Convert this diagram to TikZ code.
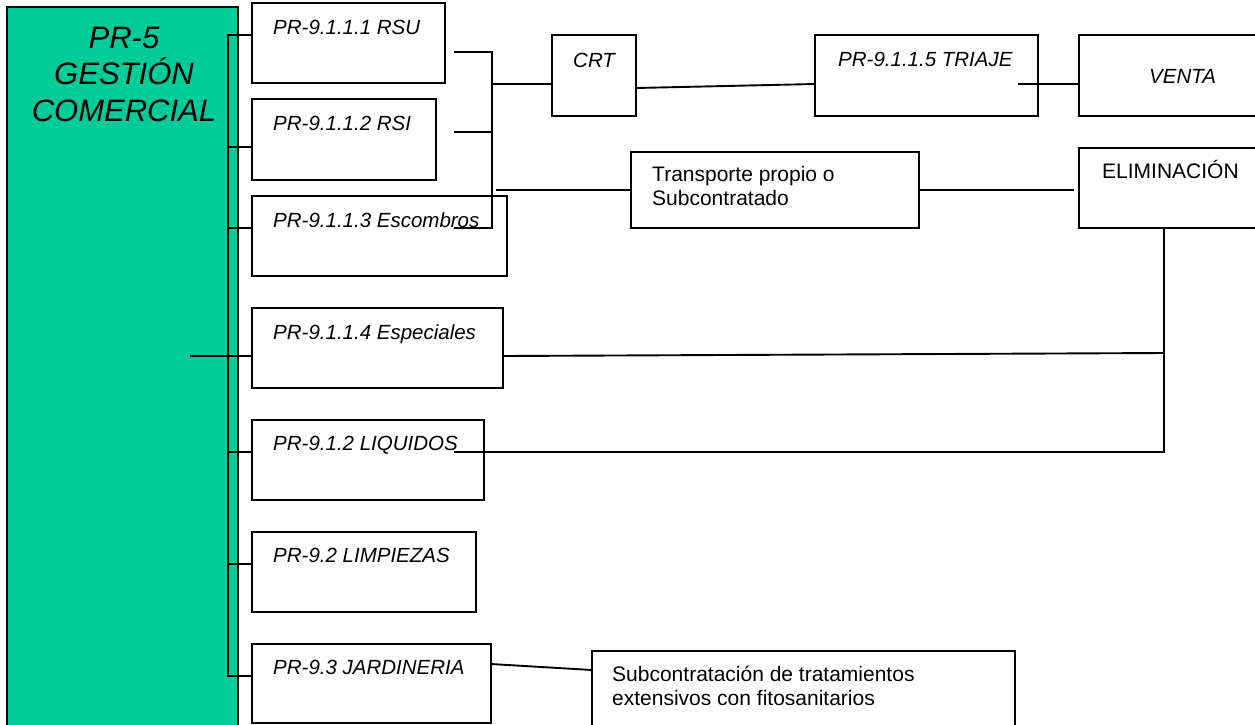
\documentclass[tikz,border=0pt]{standalone}
\usepackage{fontspec}
\setmainfont{Liberation Sans}
\definecolor{pgreen}{RGB}{0,204,153}
\begin{document}
\begin{tikzpicture}[x=1pt,y=-1pt,
  box/.style={draw=black, line width=1.9pt, fill=white, inner sep=0pt, outer sep=0pt, anchor=north west},
  itlbl/.style={inner sep=0pt, anchor=base west, font=\fontsize{20.5}{24}\selectfont\itshape},
  uplbl/.style={inner sep=0pt, anchor=base west, align=left, font=\fontsize{21}{23.3}\selectfont},
  ttl/.style={inner sep=0pt, anchor=base, font=\fontsize{31}{36.5}\selectfont\itshape},
  conn/.style={line width=1.9pt, line cap=rect}]
\useasboundingbox (0,0) rectangle (1255,724);
\clip (0,0) rectangle (1255,724);
% main green box
\node[box, fill=pgreen, line width=1.6pt, minimum width=231pt, minimum height=760pt] (pr5) at (7,7) {};
\node[ttl] (t1) at (124,48) {PR-5};
\node[ttl] (t2) at (124,84.5) {GESTIÓN};
\node[ttl] (t3) at (124,121) {COMERCIAL};
% left boxes
\node[box, minimum width=193pt, minimum height=80pt] (rsu) at (252,3) {};
\node[box, minimum width=184pt, minimum height=81pt] (rsi) at (252,99) {};
\node[box, minimum width=255pt, minimum height=80pt] (esc) at (252,196) {};
\node[box, minimum width=251pt, minimum height=80pt] (esp) at (252,308) {};
\node[box, minimum width=232pt, minimum height=80pt] (liq) at (252,420) {};
\node[box, minimum width=224pt, minimum height=80pt] (lim) at (252,532) {};
\node[box, minimum width=239pt, minimum height=79pt] (jar) at (252,644) {};
\node[itlbl] (lrsu) at (273,34.5) {PR-9.1.1.1 RSU};
\node[itlbl] (lrsi) at (273,130.5) {PR-9.1.1.2 RSI};
\node[itlbl] (lesc) at (273,227.5) {PR-9.1.1.3 Escombros};
\node[itlbl] (lesp) at (273,339.5) {PR-9.1.1.4 Especiales};
\node[itlbl] (lliq) at (273,450.5) {PR-9.1.2 LIQUIDOS};
\node[itlbl] (llim) at (273,562.5) {PR-9.2 LIMPIEZAS};
\node[itlbl] (ljar) at (273,674.5) {PR-9.3 JARDINERIA};
% right boxes
\node[box, minimum width=84pt, minimum height=81pt] (crt) at (552,35) {};
\node[box, minimum width=223pt, minimum height=81pt] (tri) at (815,35) {};
\node[box, minimum width=200pt, minimum height=81pt] (ven) at (1079,35) {};
\node[box, minimum width=288pt, minimum height=76pt] (tra) at (631,152) {};
\node[box, minimum width=200pt, minimum height=80pt] (eli) at (1079,148) {};
\node[box, minimum width=423pt, minimum height=100pt] (sub) at (592,651) {};
\node[itlbl] (lcrt) at (573,67.5) {CRT};
\node[itlbl] (ltri) at (838,66.5) {PR-9.1.1.5 TRIAJE};
\node[itlbl] (lven) at (1149,83.5) {VENTA};
\node[uplbl] (ltra) at (652,205) {Transporte propio o\\Subcontratado};
\node[uplbl] (leli) at (1102,178) {ELIMINACIÓN};
\node[uplbl] (lsub) at (612,705) {Subcontratación de tratamientos\\extensivos con fitosanitarios};
% bus and branches
\coordinate (b1) at (228,35);
\coordinate (b2) at (228,147);
\coordinate (b3) at (228,228);
\coordinate (b4) at (191,356);
\coordinate (b5) at (228,452);
\coordinate (b6) at (228,564);
\coordinate (b7) at (228,676);
\draw[conn] (b1) -- (b7);
\draw[conn] (b1) -- (rsu.west |- b1);
\draw[conn] (b2) -- (rsi.west |- b2);
\draw[conn] (b3) -- (esc.west |- b3);
\draw[conn] (b4) -- (esp.west |- b4);
\draw[conn] (b5) -- (liq.west |- b5);
\draw[conn] (b6) -- (lim.west |- b6);
\draw[conn] (b7) -- (jar.west |- b7);
% collector from RSU/RSI/Escombros
\coordinate (rsuR) at (455,52);
\coordinate (rsiR) at (455,132);
\coordinate (escR) at (455,228);
\coordinate (c1) at (492,52);
\coordinate (c2) at (492,132);
\coordinate (c3) at (492,228);
\coordinate (cm) at (492,84);
\coordinate (traL) at (497,190);
\draw[conn] (rsuR) -- (c1) -- (c3) -- (escR);
\draw[conn] (rsiR) -- (c2);
\draw[conn] (cm) -- (crt.west |- cm);
\draw[conn] (traL) -- (tra.west);
% top chain
\draw[conn] ([yshift=-12.5pt]crt.east) -- ([yshift=-8.5pt]tri.west);
\draw[conn] ([xshift=-19pt,yshift=-8.5pt]tri.east) -- ([yshift=-8.5pt]ven.west);
% transport to elimination
\coordinate (eliL) at (1073,190);
\draw[conn] (tra.east) -- (eliL);
\coordinate (drop) at (1164,452);
\coordinate (dropE) at (1164,353);
\draw[conn] (eli.south -| drop) -- (drop);
\draw[conn] ([yshift=-8pt]esp.east) -- (dropE);
\coordinate (liqL) at (455,452);
\draw[conn] (liqL) -- (drop);
% jardineria
\draw[conn] ([yshift=19.5pt]jar.east) -- ([yshift=-19pt]sub.north west);
% small overlapping fragments
\draw[line width=2.6pt] (275,99) -- (300,99);
\draw[line width=2.6pt] (348,196) -- (372,196);
\end{tikzpicture}
\end{document}
